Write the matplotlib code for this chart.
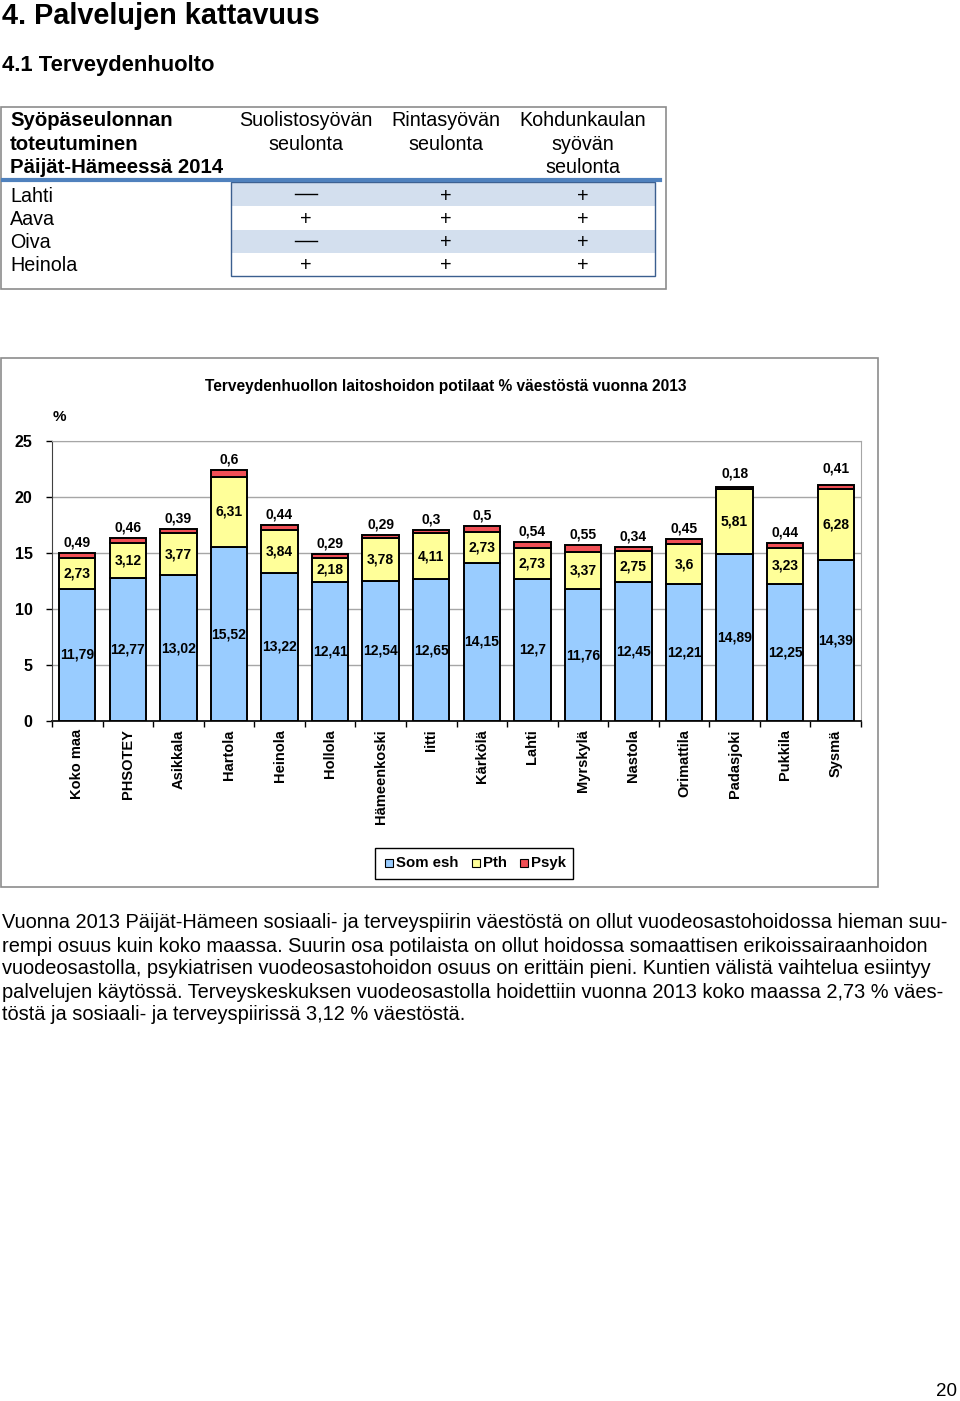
import matplotlib
matplotlib.use('Agg')
import numpy as np
import matplotlib.pyplot as plt
from matplotlib.patches import Rectangle

plt.rcParams['font.family'] = ['Liberation Sans', 'DejaVu Sans']

# --- data ---
categories = ['Koko maa', 'PHSOTEY', 'Asikkala', 'Hartola', 'Heinola', 'Hollola',
              'Hämeenkoski', 'Iitti', 'Kärkölä', 'Lahti', 'Myrskylä', 'Nastola',
              'Orimattila', 'Padasjoki', 'Pukkila', 'Sysmä']
som_esh = [11.79, 12.77, 13.02, 15.52, 13.22, 12.41, 12.54, 12.65, 14.15, 12.7,
           11.76, 12.45, 12.21, 14.89, 12.25, 14.39]
pth = [2.73, 3.12, 3.77, 6.31, 3.84, 2.18, 3.78, 4.11, 2.73, 2.73, 3.37, 2.75,
       3.6, 5.81, 3.23, 6.28]
psyk = [0.49, 0.46, 0.39, 0.6, 0.44, 0.29, 0.29, 0.3, 0.5, 0.54, 0.55, 0.34,
        0.45, 0.18, 0.44, 0.41]
series_names = ['Som esh', 'Pth', 'Psyk']
yticks = [0, 5, 10, 15, 20, 25]

table_cols = ['Suolistosyövän\nseulonta', 'Rintasyövän\nseulonta', 'Kohdunkaulan\nsyövän\nseulonta']
table_rows = ['Lahti', 'Aava', 'Oiva', 'Heinola']
table_vals = [['—', '+', '+'],
              ['+', '+', '+'],
              ['—', '+', '+'],
              ['+', '+', '+']]

paragraph = [
    'Vuonna 2013 Päijät-Hämeen sosiaali- ja terveyspiirin väestöstä on ollut vuodeosastohoidossa hieman suu-',
    'rempi osuus kuin koko maassa. Suurin osa potilaista on ollut hoidossa somaattisen erikoissairaanhoidon',
    'vuodeosastolla, psykiatrisen vuodeosastohoidon osuus on erittäin pieni. Kuntien välistä vaihtelua esiintyy',
    'palvelujen käytössä. Terveyskeskuksen vuodeosastolla hoidettiin vuonna 2013 koko maassa 2,73 % väes-',
    'töstä ja sosiaali- ja terveyspiirissä 3,12 % väestöstä.',
]

W, H = 960, 1401
fig = plt.figure(figsize=(W / 100, H / 100), dpi=100)


def fx(x):
    return x / W


def fy(y):
    return 1 - y / H


def rect(x0, y0, x1, y1, **kw):
    fig.patches.append(Rectangle((fx(x0), fy(y1)), fx(x1) - fx(x0), fy(y0) - fy(y1),
                                 transform=fig.transFigure, **kw))


# headings
fig.text(fx(2), fy(16), '4. Palvelujen kattavuus', fontsize=20.8, fontweight='bold', va='center')
fig.text(fx(2), fy(66), '4.1 Terveydenhuolto', fontsize=15.8, fontweight='bold', va='center')

# --- table ---
rect(1, 107, 666, 289, fill=False, edgecolor='#8c8c8c', linewidth=1.2)
for i in (0, 2):
    rect(231, 183 + i * 23.5, 655, 206 + i * 23.5, facecolor='#d3dfee', edgecolor='none')
rect(231, 182, 655, 276, fill=False, edgecolor='#3b5f8f', linewidth=1.0)
fig.add_artist(plt.Line2D([fx(3), fx(660)], [fy(180), fy(180)], color='#4f81bd', linewidth=3))
for k, line in enumerate(['Syöpäseulonnan', 'toteutuminen', 'Päijät-Hämeessä 2014']):
    fig.text(fx(10), fy(121 + k * 23.3), line, fontsize=14.7, fontweight='bold', va='center')
col_x = [306, 446, 583]
for c, label in enumerate(table_cols):
    for k, line in enumerate(label.split('\n')):
        fig.text(fx(col_x[c]), fy(121 + k * 23.3), line, fontsize=14.2, ha='center', va='center')
for r, name in enumerate(table_rows):
    y = 196 + r * 23.3
    fig.text(fx(10), fy(y), name, fontsize=14.2, va='center')
    for c, v in enumerate(table_vals[r]):
        if v == '—':
            fig.add_artist(plt.Line2D([fx(col_x[c] - 11), fx(col_x[c] + 11)], [fy(y - 2), fy(y - 2)],
                                      color='black', linewidth=1))
        else:
            fig.text(fx(col_x[c]), fy(y), v, fontsize=14.2, ha='center', va='center')

# --- chart ---
rect(1, 358, 878, 887, fill=False, edgecolor='#8c8c8c', linewidth=1.2)
fig.text(fx(446), fy(387), 'Terveydenhuollon laitoshoidon potilaat % väestöstä vuonna 2013',
         fontsize=11.2, fontweight='bold', ha='center', va='center')
fig.text(fx(59), fy(417), '%', fontsize=11, fontweight='bold', ha='center', va='center')

ax = fig.add_axes([fx(52), fy(721), fx(861) - fx(52), (721 - 441) / H])
x = np.arange(len(categories))
colors = ['#99ccff', '#ffff99', '#f04f55']
som = np.array(som_esh)
pt = np.array(pth)
ps = np.array(psyk)
bw = 0.72
ax.bar(x, som, bw, color=colors[0], edgecolor='black', linewidth=1.4, zorder=3)
ax.bar(x, pt, bw, bottom=som, color=colors[1], edgecolor='black', linewidth=1.4, zorder=3)
ax.bar(x, ps, bw, bottom=som + pt, color=colors[2], edgecolor='black', linewidth=1.4, zorder=3)

lab_kw = dict(fontsize=10, fontweight='bold', ha='center', va='center', zorder=4)
for i in x:
    ax.text(i, som[i] / 2, f'{som_esh[i]:g}'.replace('.', ','), **lab_kw)
    ax.text(i, som[i] + pt[i] / 2, f'{pth[i]:g}'.replace('.', ','), **lab_kw)
# extra lift for a couple of psyk labels (points)
lift = {13: 3, 15: 6}
for i in x:
    ax.annotate(f'{psyk[i]:g}'.replace('.', ','), (i, som[i] + pt[i] + ps[i]),
                xytext=(0, 7.5 + lift.get(i, 0) * 0.75), textcoords='offset points', **lab_kw)

ax.set_xlim(-0.5, len(categories) - 0.5)
ax.set_ylim(0, 25)
ax.set_yticks(yticks)
ax.set_yticklabels([str(t) for t in yticks], fontsize=11.5, fontweight='bold')
ax.yaxis.grid(True, color='#a6a6a6', linewidth=1, zorder=0)
ax.set_xticks(x)
ax.set_xticklabels(categories, rotation=90, fontsize=10.5, fontweight='bold', va='top')
ax.tick_params(axis='x', length=0, pad=6)
ax.set_xticks(np.arange(-0.5, len(categories)), minor=True)
ax.tick_params(axis='x', which='minor', length=4, direction='out', width=1)
ax.tick_params(axis='y', length=4, direction='out', pad=10, width=1)
for side in ('top', 'right'):
    ax.spines[side].set_color('#a6a6a6')
ax.spines['left'].set_color('#404040')
ax.spines['bottom'].set_color('#202020')
ax.spines['bottom'].set_linewidth(1.4)
ax.set_axisbelow(True)

# legend
rect(375, 848, 573, 879, fill=False, edgecolor='black', linewidth=1)
leg_x = [385, 472, 520]
for k, name in enumerate(series_names):
    rect(leg_x[k], 859, leg_x[k] + 8, 867, facecolor=colors[k], edgecolor='black', linewidth=0.8)
    fig.text(fx(leg_x[k] + 11), fy(863), name, fontsize=10.8, fontweight='bold', va='center')

# paragraph
for k, line in enumerate(paragraph):
    fig.text(fx(2), fy(923 + k * 23), line, fontsize=14.4, va='center')

fig.text(fx(957), fy(1391), '20', fontsize=13.5, ha='right', va='center')

fig.savefig('out.png', dpi=100)
